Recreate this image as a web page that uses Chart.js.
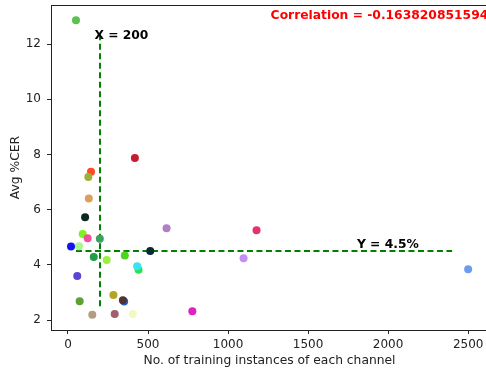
<!DOCTYPE html>
<html>
<head>
<meta charset="utf-8">
<script src="https://cdn.jsdelivr.net/npm/chart.js@4"></script>
<style>
  html, body { margin: 0; padding: 0; background: #fff; overflow: hidden; }
  #wrap { width: 486px; height: 374px; overflow: hidden; }
  canvas { display: block; }
</style>
</head>
<body>
<div id="wrap"><canvas id="chart" width="492" height="374"></canvas></div>
<script>
// training instances per channel vs avg %CER
const instances = [50, 418, 144, 127, 130, 107, 92, 123, 199, 19, 69, 161, 242, 355, 514,
    441, 432, 58, 73, 284, 351, 343, 152, 292, 405, 777, 1097, 616, 1178, 2500];
const avgCER = [12.87, 7.87, 7.38, 7.19, 6.41, 5.73, 5.12, 4.97, 4.95, 4.67, 4.68, 4.29, 4.18, 4.34, 4.50,
    3.82, 3.95, 3.60, 2.68, 2.91, 2.67, 2.72, 2.19, 2.22, 2.22, 2.32, 4.24, 5.33, 5.26, 3.84];
const pointColors = ['#5cc14f', '#c41e2e', '#ff4a24', '#9ab23a', '#dca05c', '#0b2a1c', '#7cf21e', '#f0509a',
    '#3f9f63', '#1414f0', '#a8f592', '#1f9f45', '#98f040', '#4fd41e', '#0a2a33', '#2fe04f', '#33e6f2',
    '#5e44d0', '#5f9f33', '#b4a423', '#2060d0', '#503434', '#b49c82', '#a05e6a', '#eefcc0', '#e021c4',
    '#c68ef2', '#b27ec4', '#e33274', '#6a9cf0'];

// threshold lines
const vLineX = [200, 200];
const vLineY = [2.5, 12.35];
const hLineX = [50, 2400];
const hLineY = [4.5, 4.5];

const xTicks = [0, 500, 1000, 1500, 2000, 2500];
const yTicks = [2, 4, 6, 8, 10, 12];
const correlation = -0.163820851594;

const points = instances.map((x, i) => ({ x: x, y: avgCER[i] }));

// texts + top spine
const annotations = {
    id: 'annotations',
    afterDatasetsDraw(chart) {
        const ctx = chart.ctx;
        const xs = chart.scales.x, ys = chart.scales.y;
        const area = chart.chartArea;
        ctx.save();
        ctx.strokeStyle = '#222';
        ctx.lineWidth = 1;
        ctx.beginPath();
        ctx.moveTo(area.left, area.top + 0.5);
        ctx.lineTo(area.right, area.top + 0.5);
        ctx.stroke();

        ctx.font = 'bold 12.3px "DejaVu Sans"';
        ctx.textBaseline = 'alphabetic';
        ctx.textAlign = 'left';
        ctx.fillStyle = '#000';
        ctx.fillText('X = 200', xs.getPixelForValue(165), ys.getPixelForValue(12.2));
        ctx.fillText('Y = 4.5%', xs.getPixelForValue(1805), ys.getPixelForValue(4.62));
        ctx.fillStyle = '#ff0000';
        ctx.fillText('Correlation = ' + correlation, xs.getPixelForValue(1266), ys.getPixelForValue(12.93));
        ctx.restore();
    }
};

const noPad = s => { s.paddingTop = 0; s.paddingBottom = 0; s.paddingLeft = 0; s.paddingRight = 0; };

new Chart(document.getElementById('chart'), {
    type: 'scatter',
    data: {
        datasets: [
            {
                data: points,
                pointBackgroundColor: pointColors,
                pointBorderWidth: 0,
                pointRadius: 4,
                order: 0
            },
            {
                type: 'line',
                data: vLineX.map((x, i) => ({ x: x, y: vLineY[i] })),
                borderColor: '#008000',
                borderWidth: 2,
                borderDash: [6, 3.5],
                pointRadius: 0,
                order: 1
            },
            {
                type: 'line',
                data: hLineX.map((x, i) => ({ x: x, y: hLineY[i] })),
                borderColor: '#008000',
                borderWidth: 2,
                borderDash: [6, 3.5],
                pointRadius: 0,
                order: 1
            }
        ]
    },
    options: {
        responsive: false,
        animation: false,
        layout: { padding: { top: 5, right: 4, left: 0, bottom: 0 } },
        plugins: {
            legend: { display: false },
            tooltip: { enabled: false }
        },
        scales: {
            x: {
                type: 'linear',
                min: -106,
                max: 2624,
                afterFit: s => { s.height = 44; noPad(s); },
                afterBuildTicks: s => { s.ticks = xTicks.map(v => ({ value: v })); },
                grid: { drawOnChartArea: false, drawTicks: true, tickLength: 4, color: '#222' },
                border: { color: '#222', width: 1 },
                ticks: {
                    color: '#222',
                    font: { family: 'DejaVu Sans', size: 12 },
                    padding: 4,
                    callback: v => String(v)
                },
                title: {
                    display: true,
                    text: 'No. of training instances of each channel',
                    color: '#222',
                    font: { family: 'DejaVu Sans', size: 12.3 },
                    padding: { top: 0, bottom: 6 }
                }
            },
            y: {
                type: 'linear',
                min: 1.64,
                max: 13.42,
                afterFit: s => { s.width = 51; noPad(s); },
                afterBuildTicks: s => { s.ticks = yTicks.map(v => ({ value: v })); },
                grid: { drawOnChartArea: false, drawTicks: true, tickLength: 4, color: '#222' },
                border: { color: '#222', width: 1 },
                ticks: {
                    color: '#222',
                    font: { family: 'DejaVu Sans', size: 12 },
                    padding: 6,
                    callback: v => String(v)
                },
                title: {
                    display: true,
                    text: 'Avg %CER',
                    color: '#222',
                    font: { family: 'DejaVu Sans', size: 12.3 },
                    padding: { top: 8, bottom: 0 }
                }
            }
        }
    },
    plugins: [annotations]
});
</script>
</body>
</html>
